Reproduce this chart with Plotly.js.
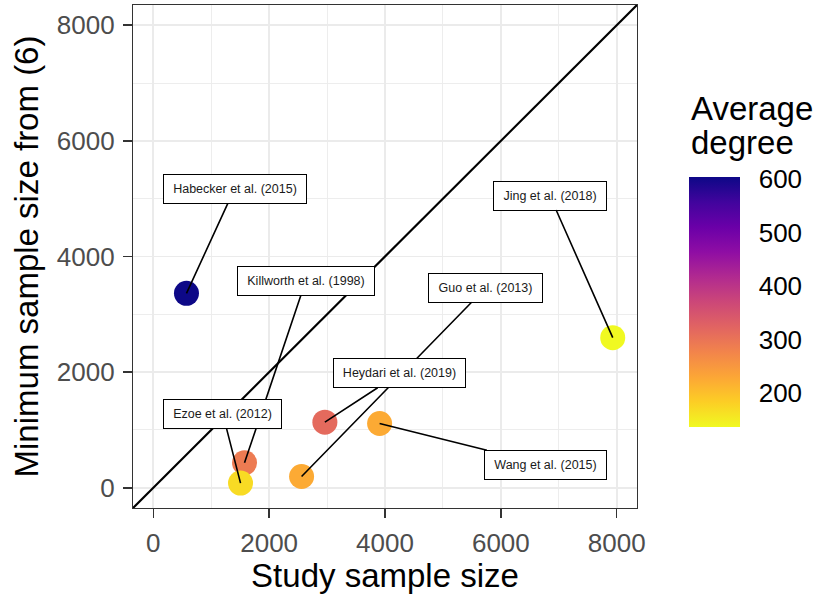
<!DOCTYPE html>
<html>
<head>
<meta charset="utf-8">
<script src="https://cdn.plot.ly/plotly-3.0.1.min.js"></script>
<style>html,body{margin:0;padding:0;background:#fff;}#chart{width:820px;height:594px;}</style>
</head>
<body>
<div id="chart"></div>
<script>
// ---- data ----
const studies = ["Habecker et al. (2015)", "Killworth et al. (1998)", "Ezoe et al. (2012)", "Guo et al. (2013)", "Heydari et al. (2019)", "Wang et al. (2015)", "Jing et al. (2018)"];
const studySampleSize = [573, 1575, 1506, 2560, 2962, 3907, 7931];
const minSampleSize = [3363, 432, 81, 195, 1135, 1111, 2596];
const averageDegree = [604, 290, 169, 225, 314, 225, 136];
const colorTicks = [200, 300, 400, 500, 600];
const axisTicks = [0, 2000, 4000, 6000, 8000];

// label placement (data coordinates of label centres) and box widths
const labelX = [1402, 2631, 1200, 5739, 4257, 6762, 6843];
const labelY = [5169, 3575, 1278, 3459, 1981, 397, 5055];
const labelW = [140, 134, 115, 111, 129, 119, 110];

const FONT = "Liberation Sans, Arial, Helvetica, sans-serif";
const plasma = [
  [0.0, "#0d0887"], [0.1, "#41049d"], [0.2, "#6a00a8"], [0.3, "#8f0da4"],
  [0.4, "#b12a90"], [0.5, "#cc4778"], [0.6, "#e16462"], [0.7, "#f2844b"],
  [0.8, "#fca636"], [0.9, "#fcce25"], [1.0, "#f0f921"]
];

const lo = -350, hi = 8350;

const diag = {
  x: [lo, hi], y: [lo, hi], mode: "lines", type: "scatter",
  line: {color: "#000000", width: 2.2}, hoverinfo: "skip", showlegend: false
};

const pts = {
  x: studySampleSize, y: minSampleSize, text: studies, mode: "markers", type: "scatter",
  marker: {
    size: 25, color: averageDegree, colorscale: plasma, reversescale: true,
    cmin: 136, cmax: 604, showscale: true, line: {width: 0},
    colorbar: {
      x: 1.103, xanchor: "left", y: 0.4095, yanchor: "middle",
      len: 250, lenmode: "pixels", thickness: 51, thicknessmode: "pixels",
      outlinewidth: 0, xpad: 0, ypad: 0,
      tickvals: colorTicks, ticktext: colorTicks.map(String),
      ticks: "outside", ticklen: 14, tickcolor: "rgba(0,0,0,0)",
      tickfont: {family: FONT, size: 26, color: "#000000"}
    }
  },
  showlegend: false, hoverinfo: "text"
};

const annotations = studies.map((s, i) => ({
  x: studySampleSize[i], y: minSampleSize[i], xref: "x", yref: "y",
  ax: labelX[i], ay: labelY[i], axref: "x", ayref: "y",
  text: s, showarrow: true, arrowhead: 0, arrowwidth: 1.6, arrowcolor: "#000000",
  standoff: 0, startstandoff: 0,
  font: {family: FONT, size: 12.5, color: "#1a1a1a"},
  bgcolor: "#ffffff", bordercolor: "#000000", borderwidth: 1, borderpad: 1,
  width: labelW[i], height: 26, align: "center", valign: "middle"
}));

annotations.push({
  text: "Average", xref: "paper", yref: "paper", x: 1.103, y: 0.795,
  xanchor: "left", yanchor: "middle", showarrow: false,
  font: {family: FONT, size: 33, color: "#000000"}
});
annotations.push({
  text: "degree", xref: "paper", yref: "paper", x: 1.103, y: 0.726,
  xanchor: "left", yanchor: "middle", showarrow: false,
  font: {family: FONT, size: 33, color: "#000000"}
});

const axisCommon = {
  range: [lo, hi], tickvals: axisTicks, ticktext: axisTicks.map(String),
  ticks: "outside", ticklen: 9, tickwidth: 1.5, tickcolor: "#333333",
  ticklabelstandoff: 3,
  tickfont: {family: FONT, size: 26, color: "#4d4d4d"},
  showgrid: true, gridcolor: "#ebebeb", gridwidth: 1.8,
  minor: {dtick: 1000, tick0: 0, showgrid: true, gridcolor: "#ebebeb", gridwidth: 0.9, ticks: ""},
  zeroline: false, showline: true, mirror: true, linecolor: "#333333", linewidth: 1.2
};

const layout = {
  width: 820, height: 594,
  margin: {l: 133, r: 183, t: 5, b: 86},
  paper_bgcolor: "#ffffff", plot_bgcolor: "#ffffff",
  xaxis: Object.assign({}, axisCommon, {
    title: {text: "Study sample size", font: {family: FONT, size: 33, color: "#000000"}, standoff: 5}
  }),
  yaxis: Object.assign({}, axisCommon, {
    title: {text: "Minimum sample size from (6)", font: {family: FONT, size: 33, color: "#000000"}, standoff: 8}
  }),
  annotations: annotations,
  showlegend: false
};

Plotly.newPlot("chart", [diag, pts], layout, {displayModeBar: false, staticPlot: true});
</script>
</body>
</html>
